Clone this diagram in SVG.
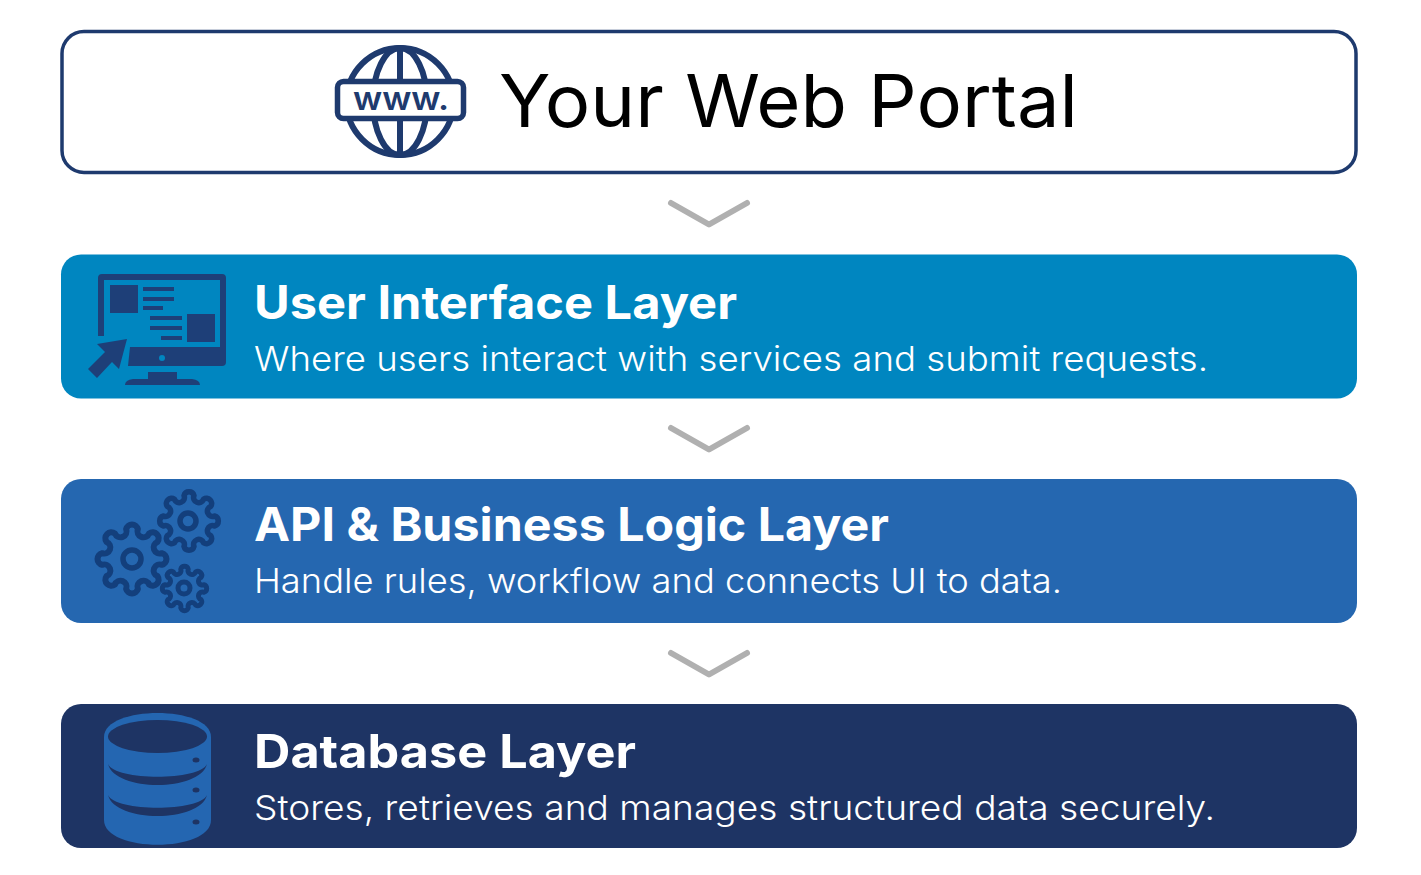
<svg xmlns="http://www.w3.org/2000/svg" width="1421" height="875" viewBox="0 0 1421 875">
<style>
text{font-family:"Inter","Liberation Sans",sans-serif}
.t{font-size:46px;font-weight:700;fill:#fff}
.s{font-size:34.500px;font-weight:300;fill:#fff}
.g{stroke:#133f7c;fill:none;stroke-linejoin:round}
.c{fill:none;stroke:#b0b0b0;stroke-width:6;stroke-linecap:round;stroke-linejoin:round}
.m{fill:#1e3f78}
.gl{fill:none;stroke:#1e3a6e;stroke-width:6}
</style>
<defs>
<path id="gear" d="M82 -16A16.500 16.500 0 0 1 82 16A16.500 16.500 0 0 0 70 47A16.500 16.500 0 0 1 47 70A16.500 16.500 0 0 0 16 82A16.500 16.500 0 0 1 -16 82A16.500 16.500 0 0 0 -47 70A16.500 16.500 0 0 1 -70 47A16.500 16.500 0 0 0 -82 16A16.500 16.500 0 0 1 -82 -16A16.500 16.500 0 0 0 -70 -47A16.500 16.500 0 0 1 -47 -70A16.500 16.500 0 0 0 -16 -82A16.500 16.500 0 0 1 16 -82A16.500 16.500 0 0 0 47 -70A16.500 16.500 0 0 1 70 -47A16.500 16.500 0 0 0 82 -16Z"/>
<path id="chev" d="M671 203L709 224.500L747 203"/>
</defs>
<rect width="1421" height="875" fill="#fff"/>
<g id="connectors">
<use href="#chev" class="c"/>
<use href="#chev" class="c" y="225"/>
<use href="#chev" class="c" y="450"/>
</g>
<g id="portal">
<rect x="62" y="31.500" width="1294" height="141" rx="22" fill="#fff" stroke="#1e3a6e" stroke-width="3.500"/>
<circle class="gl" cx="400" cy="101.500" r="53.500"/>
<ellipse class="gl" cx="400" cy="101.500" rx="27" ry="53.500"/>
<path class="gl" d="M400 47V156"/>
<rect x="337.500" y="81.500" width="126" height="37" rx="6" fill="#fff" stroke="#1e3a6e" stroke-width="5.500"/>
<text x="353" y="110" font-size="32" font-weight="600" fill="#1e3a6e" textLength="96" lengthAdjust="spacingAndGlyphs">www.</text>
<text x="499" y="127" font-size="73" font-weight="400" fill="#000" textLength="579" lengthAdjust="spacingAndGlyphs">Your Web Portal</text>
</g>
<g id="ui-layer">
<rect x="61" y="254.500" width="1296" height="144" rx="20" fill="#0086c0"/>
<path class="m" d="M98 336V278Q98 274 102 274H222Q226 274 226 278V347H220V280H104V336Z"/>
<path class="m" d="M130 347H226V362Q226 366 222 366H128Z"/>
<circle cx="162" cy="358" r="3" fill="#0086c0"/>
<path class="m" d="M148 372H177V379H192Q200 380 200 385H125Q125 380 133 379H148Z"/>
<rect class="m" x="110" y="285" width="28" height="28"/>
<rect class="m" x="187" y="314" width="28" height="28"/>
<rect class="m" x="143" y="287" width="31" height="4"/>
<rect class="m" x="143" y="297" width="31" height="4"/>
<rect class="m" x="143" y="306" width="20" height="4"/>
<rect class="m" x="150" y="316" width="32" height="4"/>
<rect class="m" x="150" y="326" width="32" height="4"/>
<rect class="m" x="161" y="336" width="21" height="4"/>
<path class="m" d="M97 344L127 339L119 369L112 362L97 378L88 369L105 352Z"/>
<text class="t" x="254" y="318.500" textLength="483" lengthAdjust="spacingAndGlyphs">User Interface Layer</text>
<text class="s" x="254" y="371" textLength="954" lengthAdjust="spacingAndGlyphs">Where users interact with services and submit requests.</text>
</g>
<g id="api-layer">
<rect x="61" y="479" width="1296" height="144" rx="20" fill="#2567b0"/>
<use href="#gear" class="g" transform="translate(132 559) scale(.365)" stroke-width="16.500"/>
<circle class="g" cx="132" cy="559" r="9" stroke-width="5.500"/>
<use href="#gear" class="g" transform="translate(189 521) scale(.31)" stroke-width="18"/>
<circle class="g" cx="188" cy="521" r="8" stroke-width="5.500"/>
<use href="#gear" class="g" transform="translate(184.500 588.500) scale(.235)" stroke-width="21"/>
<circle class="g" cx="184" cy="588" r="6" stroke-width="5"/>
<text class="t" x="254" y="540.500" textLength="635" lengthAdjust="spacingAndGlyphs">API &amp; Business Logic Layer</text>
<text class="s" x="254" y="593" textLength="808" lengthAdjust="spacingAndGlyphs">Handle rules, workflow and connects UI to data.</text>
</g>
<g id="db-layer">
<rect x="61" y="704" width="1296" height="144" rx="20" fill="#1e3464"/>
<path fill="#2466b1" d="M104 737C104 705 211 705 211 737V820C211 853 104 853 104 820Z"/>
<ellipse cx="157.500" cy="736.500" rx="49.500" ry="16.500" fill="#1e3464"/>
<path fill="#1e3464" d="M108 764C115 792 200 792 207 764C200 781 115 781 108 764Z"/>
<path fill="#1e3464" d="M108 795C115 823 200 823 207 795C200 812 115 812 108 795Z"/>
<ellipse cx="196" cy="760" rx="3.500" ry="2.500" fill="#1e3464"/>
<ellipse cx="196" cy="790" rx="3.500" ry="2.500" fill="#1e3464"/>
<ellipse cx="196" cy="822" rx="3.500" ry="2.500" fill="#1e3464"/>
<text class="t" x="254" y="767.500" textLength="382" lengthAdjust="spacingAndGlyphs">Database Layer</text>
<text class="s" x="254" y="820" textLength="961" lengthAdjust="spacingAndGlyphs">Stores, retrieves and manages structured data securely.</text>
</g>
</svg>
